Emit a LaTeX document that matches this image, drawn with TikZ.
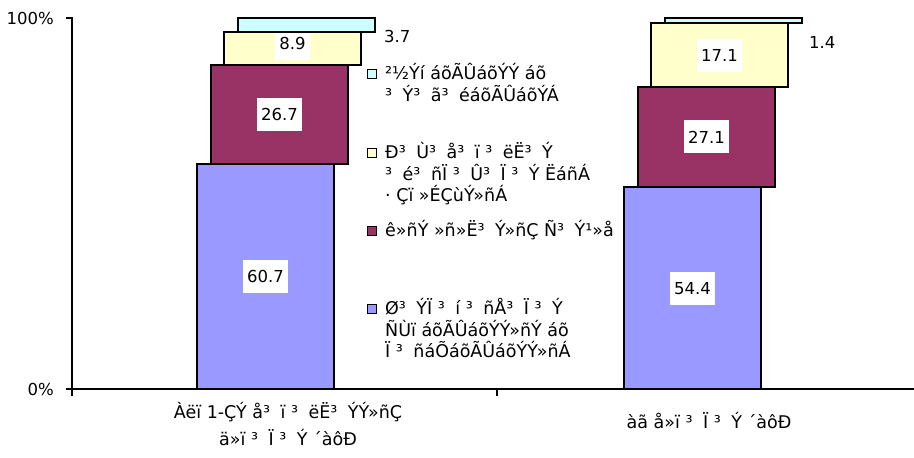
\documentclass[tikz,border=0pt]{standalone}
\usepackage{fontspec}
\setmainfont{DejaVu Sans}
\usepackage{newunicodechar}
\newunicodechar{³}{\char"B3\kern.6em}
\definecolor{pblue}{HTML}{9999FF}
\definecolor{pmaroon}{HTML}{993366}
\definecolor{pyellow}{HTML}{FFFFCC}
\definecolor{pcyan}{HTML}{CCFFFF}

\begin{document}
\begin{tikzpicture}[
    x=1pt, y=-1pt,
    seg/.style = {draw=black, line width=2pt, minimum width=137pt, inner sep=0pt, outer sep=0pt, anchor=south west},
    val/.style = {fill=white, inner xsep=4pt, inner ysep=0pt, minimum height=33pt, font=\fontsize{16.5}{16.5}\selectfont},
    num/.style = {inner sep=0pt, font=\fontsize{16.5}{16.5}\selectfont},
    key/.style = {draw=black, line width=1.6pt, minimum size=9pt, inner sep=0pt},
    txt/.style = {inner sep=0pt, anchor=base west, font=\fontsize{17.5}{17.5}\selectfont},
    axis/.style = {line width=2pt}
  ]
  \useasboundingbox (0,0) rectangle (914,458);
  % axes
  \draw[axis] (66,18) -- (72,18) -- (72,396);
  \draw[axis] (66,389) -- (914,389);
  \draw[axis] (497,389) -- (497,396);
  \node[num, anchor=east] (top) at (54,18) {100\%};
  \node[num, anchor=east] (zero) at (54,389) {0\%};

  % first stack
  \node[seg, fill=pblue, minimum height=225.2pt] (lb) at (197,389) {};
  \node[val] (lbv) at (lb) {60.7};
  \node[seg, fill=pmaroon, minimum height=99.1pt] (lm) at ([xshift=14pt]lb.north west) {};
  \node[val] (lmv) at (lm) {26.7};
  \node[seg, fill=pyellow, minimum height=33pt] (ly) at ([xshift=13pt]lm.north west) {};
  \node[val] (lyv) at ([yshift=5pt]ly.center) {8.9};
  \node[seg, fill=pcyan, minimum height=13.7pt] (lc) at ([xshift=14pt]ly.north west) {};
  \node[num, anchor=west] (lcv) at (384,36) {3.7};

  % second stack
  \node[seg, fill=pblue, minimum height=201.8pt] (rb) at (624,389) {};
  \node[val] (rbv) at (rb) {54.4};
  \node[seg, fill=pmaroon, minimum height=100.5pt] (rm) at ([xshift=14pt]rb.north west) {};
  \node[val] (rmv) at (rm) {27.1};
  \node[seg, fill=pyellow, minimum height=63.4pt] (ry) at ([xshift=13pt]rm.north west) {};
  \node[val] (ryv) at (ry) {17.1};
  \node[seg, fill=pcyan, minimum height=5.2pt] (rc) at ([xshift=14pt]ry.north west) {};
  \node[num, anchor=west] (rcv) at (809,42) {1.4};

  % legend
  \node[key, fill=pcyan] (kc) at (372,74) {};
  \node[txt] (kc1) at (385,79.5) {²½Ýí áõÃÛáõÝÝ áõ};
  \node[txt] (kc2) at (385,101) {³ Ý³ ã³ éáõÃÛáõÝÁ};
  \node[key, fill=pyellow] (ky) at (372,153) {};
  \node[txt] (ky1) at (385,158.5) {Ð³ Ù³ å³ ï ³ ëË³ Ý};
  \node[txt] (ky2) at (385,180) {³ é³ ñÏ ³ Û³ Ï ³ Ý ËáñÁ};
  \node[txt] (ky3) at (385,201.5) {· Çï »ÉÇùÝ»ñÁ};
  \node[key, fill=pmaroon] (km) at (372,231) {};
  \node[txt] (km1) at (385,236.5) {ê»ñÝ »ñ»Ë³ Ý»ñÇ Ñ³ Ý¹»å};
  \node[key, fill=pblue] (kb) at (372,309) {};
  \node[txt] (kb1) at (385,314.5) {Ø³ ÝÏ ³ í ³ ñÅ³ Ï ³ Ý};
  \node[txt] (kb2) at (385,336) {ÑÙï áõÃÛáõÝÝ»ñÝ áõ};
  \node[txt] (kb3) at (385,357.5) {Ï ³ ñáÕáõÃÛáõÝÝ»ñÁ};

  % categories
  \node[txt, anchor=base] (c1a) at (288,418) {Àëï 1-ÇÝ å³ ï ³ ëË³ ÝÝ»ñÇ};
  \node[txt, anchor=base] (c1b) at (288,445) {ä»ï ³ Ï ³ Ý ´àôÐ};
  \node[txt, anchor=base] (c2) at (709,428) {àã å»ï ³ Ï ³ Ý ´àôÐ};
\end{tikzpicture}
\end{document}
